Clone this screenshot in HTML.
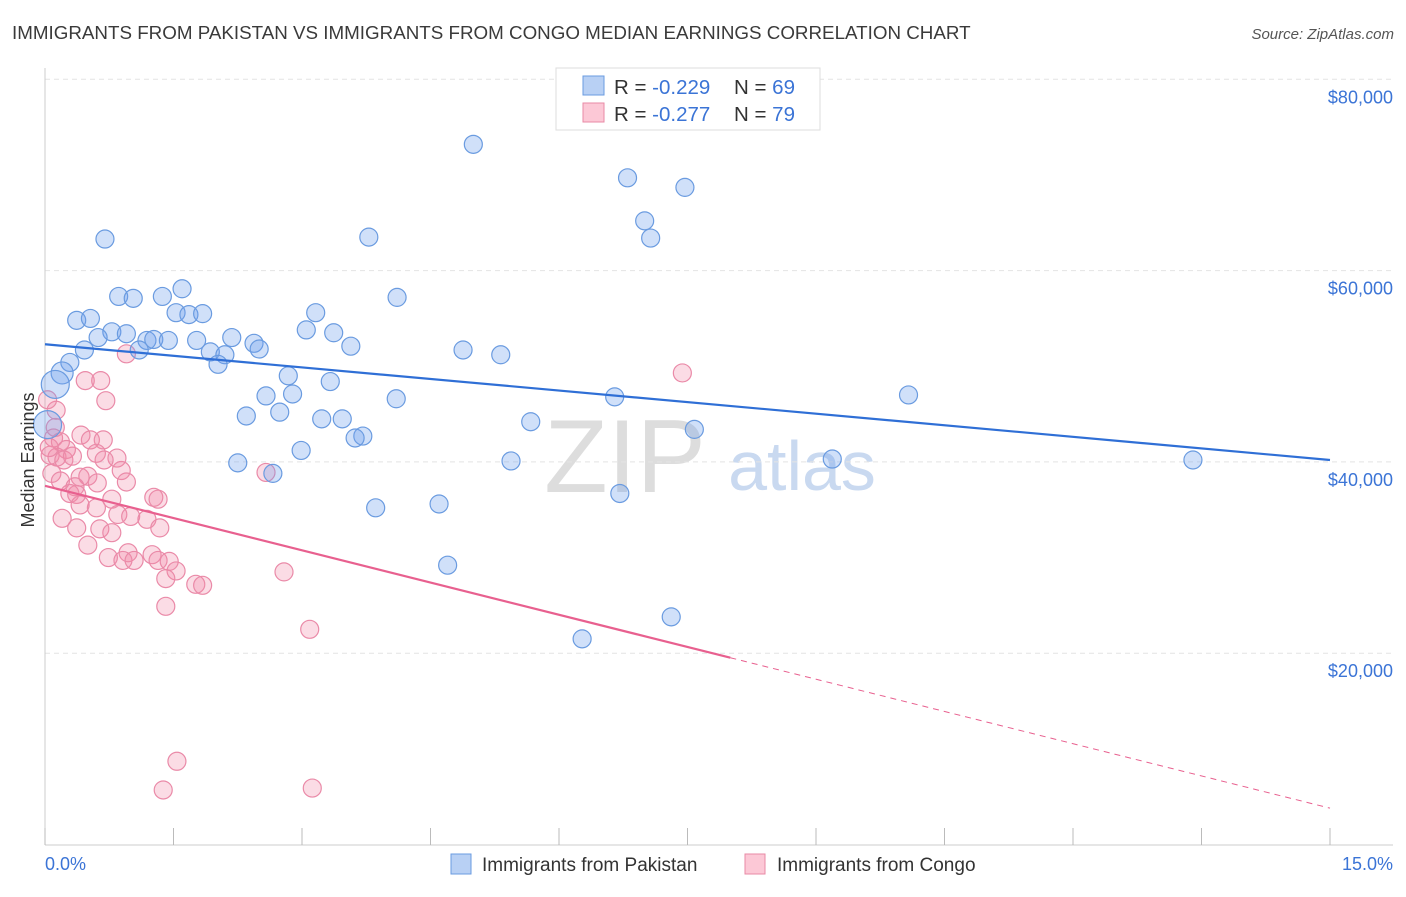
<!DOCTYPE html>
<html><head><meta charset="utf-8"><style>
body{margin:0;background:#fff;font-family:"Liberation Sans",sans-serif;}
svg text{font-family:"Liberation Sans",sans-serif;}
</style></head><body>
<svg id="chart" width="1406" height="892" viewBox="0 0 1406 892" xmlns="http://www.w3.org/2000/svg">
<text x="12" y="39" font-size="18.8" fill="#3a3a3a">IMMIGRANTS FROM PAKISTAN VS IMMIGRANTS FROM CONGO MEDIAN EARNINGS CORRELATION CHART</text>
<text x="1394" y="39" font-size="15" fill="#555" font-style="italic" text-anchor="end">Source: ZipAtlas.com</text>
<text x="625" y="492" font-size="104" fill="#ddd" font-family="Liberation Serif" text-anchor="middle">ZIP</text>
<text x="802" y="490" font-size="70" fill="#c9d9f0" text-anchor="middle">atlas</text>
<g id="grid"></g>
<g id="axes"></g>
<g id="marks"></g>
<text transform="translate(34,460) rotate(-90)" font-size="18" fill="#333" text-anchor="middle">Median Earnings</text>
<text x="45" y="870" font-size="18" fill="#3b74d6">0.0%</text>
<text x="1393" y="870" font-size="18" fill="#3b74d6" text-anchor="end">15.0%</text>
<g>
<rect x="556" y="68" width="264" height="62" fill="#fff" stroke="#ddd"/>
<rect x="583" y="76" width="21" height="19" fill="#b8d0f4" stroke="#6a9be0"/>
<rect x="583" y="103" width="21" height="19" fill="#fcc8d6" stroke="#e88aa5"/>
<text x="614" y="94" font-size="20.5" fill="#333">R = <tspan fill="#3b74d6">-0.229</tspan><tspan x="734">N = </tspan><tspan fill="#3b74d6">69</tspan></text>
<text x="614" y="121" font-size="20.5" fill="#333">R = <tspan fill="#3b74d6">-0.277</tspan><tspan x="734">N = </tspan><tspan fill="#3b74d6">79</tspan></text>
</g>
<g>
<rect x="451" y="854" width="20" height="20" fill="#b8d0f4" stroke="#6a9be0"/>
<text x="482" y="871" font-size="19" fill="#333">Immigrants from Pakistan</text>
<rect x="745" y="854" width="20" height="20" fill="#fcc8d6" stroke="#e88aa5"/>
<text x="777" y="871" font-size="19" fill="#333">Immigrants from Congo</text>
</g>
</svg>
<script>
const yTicks=[20000,40000,60000,80000];
const yTickLabels=["$20,000","$40,000","$60,000","$80,000"];
const xTicks=[0,1.5,3,4.5,6,7.5,9,10.5,12,13.5,15];
const pakX=[5.0,6.8,7.47,7.0,7.07,0.7,3.78,1.6,0.86,1.03,1.37,4.11,0.37,0.53,1.53,1.68,1.84,3.16,0.78,0.95,0.62,1.19,1.27,1.44,1.77,2.18,2.44,2.5,3.05,3.37,3.57,4.88,5.32,0.46,1.1,1.93,2.1,2.02,0.29,0.2,0.12,2.84,3.33,2.58,4.1,2.89,6.65,10.08,2.35,2.74,3.23,3.47,5.67,7.58,3.71,3.62,2.99,0.03,2.25,2.66,5.44,9.19,13.4,3.86,4.6,6.71,4.7,7.31,6.27];
const pakY=[73.2,69.7,68.7,65.2,63.4,63.3,63.5,58.1,57.3,57.1,57.3,57.2,54.8,55.0,55.6,55.4,55.5,55.6,53.6,53.4,53.0,52.7,52.8,52.7,52.7,53.0,52.4,51.8,53.8,53.5,52.1,51.7,51.2,51.7,51.7,51.5,51.2,50.2,50.4,49.3,48.1,49.0,48.4,46.9,46.6,47.1,46.8,47.0,44.8,45.2,44.5,44.5,44.2,43.4,42.7,42.5,41.2,43.9,39.9,38.8,40.1,40.3,40.2,35.2,35.6,36.7,29.2,23.8,21.5];
const congoX=[7.44,0.95,0.47,0.65,0.71,0.13,0.03,0.1,0.42,0.53,0.68,0.18,0.25,0.06,0.14,0.22,0.32,0.6,0.84,0.69,0.08,0.89,0.41,0.5,0.18,0.35,0.61,0.95,0.29,0.37,0.78,1.27,1.32,2.58,0.2,0.6,0.41,0.85,1.0,1.19,0.37,0.64,0.78,1.34,0.5,0.97,1.25,0.74,0.91,1.04,1.32,1.45,1.53,1.41,1.76,1.84,2.79,1.41,3.09,1.54,1.38,3.12,0.12,0.05];
const congoY=[49.3,51.3,48.5,48.5,46.4,45.4,46.5,42.5,42.8,42.3,42.3,42.1,41.3,40.7,40.5,40.2,40.6,40.9,40.4,40.2,38.8,39.1,38.4,38.5,38.0,37.4,37.8,37.9,36.7,36.6,36.1,36.3,36.1,38.9,34.1,35.2,35.5,34.5,34.3,34.0,33.1,33.0,32.6,33.1,31.3,30.5,30.3,30.0,29.7,29.7,29.7,29.6,28.6,27.8,27.2,27.1,28.5,24.9,22.5,8.7,5.7,5.9,43.6,41.5];
const pakTrend=[52.3,40.2];
const congoTrend=[37.5,3.8];
const congoSolidEnd=8.0;
const NS="http://www.w3.org/2000/svg";
const X=p=>45+p*(1285/15);
const Y=k=>844.5-k*9.565;
function mk(tag,attrs,parent){const e=document.createElementNS(NS,tag);for(const k in attrs)e.setAttribute(k,attrs[k]);parent.appendChild(e);return e;}
const grid=document.getElementById('grid'),axes=document.getElementById('axes'),marks=document.getElementById('marks');
yTicks.forEach((v,i)=>{const y=Y(v/1000);
const l=mk('line',{x1:45,x2:1393,y1:y,y2:y,stroke:'#e4e4e4','stroke-dasharray':'5,4'},grid);


const t=mk('text',{x:1393,y:y+24,'font-size':18,fill:'#3b74d6','text-anchor':'end'},axes);t.textContent=yTickLabels[i];

});
const ax=mk('line',{x1:45,x2:1393,y1:845,y2:845,stroke:'#ccc'},axes);


const ay=mk('line',{x1:45,x2:45,y1:68,y2:845,stroke:'#ccc'},axes);


xTicks.forEach(p=>{const t=mk('line',{x1:X(p),x2:X(p),y1:828,y2:845,stroke:'#bbb'},axes);

});
congoX.forEach((x,i)=>{const c=mk('circle',{cx:X(x),cy:Y(congoY[i]),r:9,fill:'rgba(242,140,170,0.3)',stroke:'#ea8aa8','stroke-width':1.2},marks);

});
pakX.forEach((x,i)=>{const r=(i===40||i===57)?14:(i===39?11:9);const c=mk('circle',{cx:X(x),cy:Y(pakY[i]),r:r,fill:'rgba(110,160,235,0.32)',stroke:'#6a9be0','stroke-width':1.2},marks);

});
const pl=mk('line',{x1:X(0),y1:Y(pakTrend[0]),x2:X(15),y2:Y(pakTrend[1]),stroke:'#2f6fd6','stroke-width':2.2},marks);


const cy=x=>congoTrend[0]+(congoTrend[1]-congoTrend[0])*x/15;
const cl=mk('line',{x1:X(0),y1:Y(cy(0)),x2:X(congoSolidEnd),y2:Y(cy(congoSolidEnd)),stroke:'#e8608f','stroke-width':2.2},marks);


const cd=mk('line',{x1:X(congoSolidEnd),y1:Y(cy(congoSolidEnd)),x2:X(15),y2:Y(cy(15)),stroke:'#e8608f','stroke-width':1,'stroke-dasharray':'6,5'},marks);


</script>
</body></html>
